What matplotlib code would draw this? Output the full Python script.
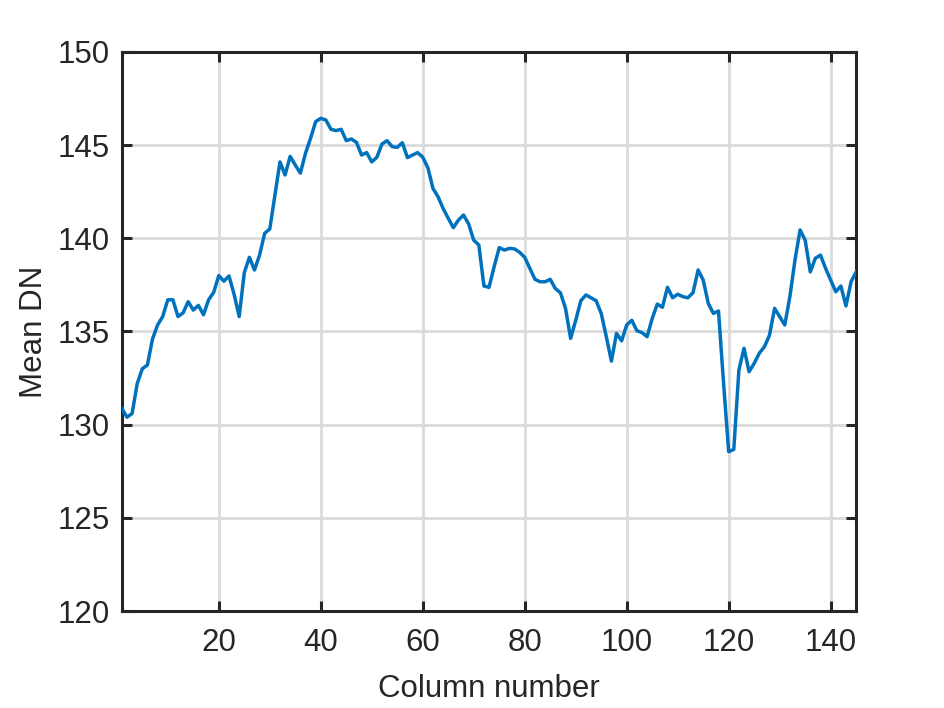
import numpy as np
import matplotlib
matplotlib.use("Agg")
import matplotlib.pyplot as plt

# mean DN per column
columns = np.arange(1, 146)
mean_dn = [
    130.87, 130.4, 130.6, 132.2, 133.0, 133.2, 134.6, 135.35, 135.8, 136.7,
    136.7, 135.8, 136.0, 136.6, 136.15, 136.4, 135.9, 136.7, 137.1, 138.0,
    137.7, 137.98, 137.0, 135.8, 138.15, 138.98, 138.3, 139.1, 140.27, 140.5,
    142.3, 144.1, 143.4, 144.4, 143.93, 143.5, 144.56, 145.37, 146.26, 146.44,
    146.35, 145.85, 145.78, 145.85, 145.24, 145.33, 145.15, 144.47, 144.6, 144.1,
    144.35, 145.06, 145.24, 144.92, 144.88, 145.13, 144.33, 144.47, 144.6, 144.35,
    143.79, 142.68, 142.23, 141.6, 141.07, 140.57, 140.98, 141.25, 140.77, 139.9,
    139.64, 137.44, 137.37, 138.48, 139.5, 139.37, 139.46, 139.43, 139.25, 138.98,
    138.39, 137.8, 137.67, 137.67, 137.8, 137.3, 137.08, 136.24, 134.63, 135.6,
    136.65, 136.96, 136.81, 136.65, 135.97, 134.72, 133.41, 134.9, 134.5, 135.35,
    135.6, 135.04, 134.94, 134.72, 135.7, 136.47, 136.3, 137.37, 136.81, 137.0,
    136.87, 136.81, 137.08, 138.3, 137.76, 136.5, 135.97, 136.1, 132.2, 128.55,
    128.67, 132.93, 134.1, 132.84, 133.29, 133.83, 134.18, 134.8, 136.24, 135.8,
    135.35, 136.87, 138.84, 140.45, 139.9, 138.2, 138.93, 139.1, 138.39, 137.76,
    137.13, 137.44, 136.37, 137.67, 138.2,
]
xticks = [20, 40, 60, 80, 100, 120, 140]
yticks = [120, 125, 130, 135, 140, 145, 150]

plt.rcParams['font.family'] = ['Liberation Sans', 'DejaVu Sans']
dark = '#262626'
fs = 22.5

fig = plt.figure(figsize=(9.45, 7.08), dpi=100)
ax = fig.add_axes([0.129, 0.137, 0.777, 0.7896])

ax.plot(columns, mean_dn, color='#0072BD', lw=2.5, zorder=3)

ax.set_xlim(1, 145)
ax.set_ylim(120, 150)
ax.set_xticks(xticks)
ax.set_yticks(yticks)
ax.grid(True, color='#dadada', lw=2.0)
ax.set_axisbelow(True)

for s in ax.spines.values():
    s.set_color(dark)
    s.set_linewidth(2.2)
ax.tick_params(direction='in', length=7, width=2.2, colors=dark,
               labelsize=fs, top=True, right=True)
ax.tick_params(axis='x', pad=12)
ax.tick_params(axis='y', pad=9)

ax.set_xlabel('Column number', fontsize=fs, color=dark, labelpad=12)
ax.set_ylabel('Mean DN', fontsize=fs, color=dark, labelpad=6)

fig.savefig('out.png', dpi=100)
